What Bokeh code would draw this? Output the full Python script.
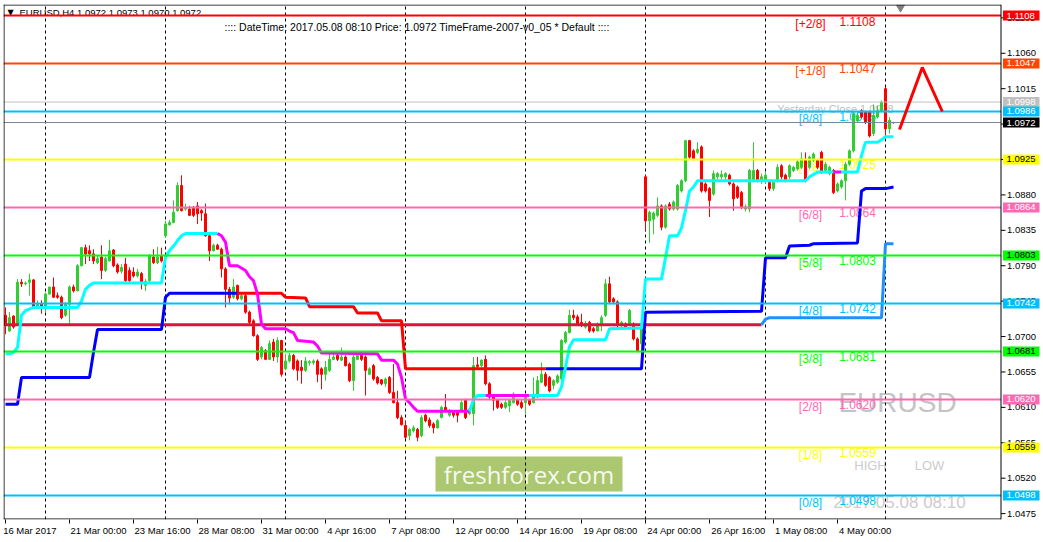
from bokeh.plotting import figure
from bokeh.models import FixedTicker, ColumnDataSource
from bokeh.embed import file_html
from bokeh.resources import INLINE
from bokeh.core.properties import value

# ---------------- data (EURUSD H4) ----------------
opens = [1.0727,1.0707,1.0726,1.0716,1.0769,1.0767,1.0769,1.0772,1.0737,1.0742,
1.0737,1.0754,1.0763,1.0752,1.0750,1.0727,1.0741,1.0763,1.0758,1.0790,
1.0813,1.0809,1.0805,1.0794,1.0801,1.0784,1.0796,1.0810,1.0791,1.0783,
1.0792,1.0784,1.0782,1.0777,1.0780,1.0765,1.0771,1.0801,1.0794,1.0803,
1.0828,1.0842,1.0845,1.0860,1.0892,1.0862,1.0862,1.0864,1.0866,1.0860,
1.0856,1.0828,1.0809,1.0816,1.0811,1.0786,1.0760,1.0750,1.0765,1.0748,
1.0752,1.0731,1.0720,1.0701,1.0674,1.0682,1.0671,1.0693,1.0674,1.0695,
1.0659,1.0669,1.0676,1.0669,1.0661,1.0657,1.0667,1.0667,1.0669,1.0659,
1.0652,1.0657,1.0671,1.0676,1.0670,1.0674,1.0665,1.0644,1.0671,1.0676,
1.0674,1.0652,1.0663,1.0648,1.0645,1.0640,1.0648,1.0629,1.0616,1.0597,
1.0587,1.0574,1.0580,1.0582,1.0574,1.0600,1.0594,1.0589,1.0584,1.0597,
1.0610,1.0600,1.0604,1.0604,1.0606,1.0619,1.0602,1.0602,1.0664,1.0663,
1.0671,1.0640,1.0623,1.0619,1.0614,1.0610,1.0612,1.0616,1.0619,1.0616,
1.0616,1.0619,1.0616,1.0623,1.0642,1.0652,1.0648,1.0638,1.0642,1.0646,
1.0693,1.0705,1.0727,1.0725,1.0718,1.0712,1.0718,1.0710,1.0707,1.0716,
1.0727,1.0767,1.0748,1.0744,1.0714,1.0716,1.0716,1.0716,1.0697,1.0691,
1.0903,1.0847,1.0849,1.0854,1.0866,1.0839,1.0868,1.0862,1.0862,1.0885,
1.0898,1.0949,1.0936,1.0934,1.0941,1.0894,1.0888,1.0881,1.0903,1.0903,
1.0903,1.0905,1.0894,1.0890,1.0883,1.0862,1.0862,1.0898,1.0911,1.0898,
1.0898,1.0896,1.0888,1.0898,1.0917,1.0905,1.0903,1.0911,1.0913,1.0915,
1.0924,1.0915,1.0924,1.0924,1.0934,1.0911,1.0907,1.0911,1.0885,1.0890,
1.0898,1.0919,1.0936,1.0974,1.0987,1.0985,1.0985,1.0958,1.0979,1.0987,
1.1015,1.0964,1.0972]
highs = [1.0737,1.0731,1.0727,1.0773,1.0773,1.0770,1.0780,1.0773,1.0746,1.0746,
1.0756,1.0763,1.0775,1.0756,1.0752,1.0744,1.0765,1.0766,1.0792,1.0814,
1.0817,1.0816,1.0811,1.0803,1.0816,1.0801,1.0823,1.0811,1.0793,1.0792,
1.0800,1.0788,1.0788,1.0786,1.0782,1.0773,1.0805,1.0811,1.0814,1.0813,
1.0847,1.0848,1.0873,1.0896,1.0905,1.0869,1.0866,1.0866,1.0871,1.0862,
1.0869,1.0830,1.0818,1.0818,1.0813,1.0788,1.0763,1.0773,1.0766,1.0756,
1.0754,1.0733,1.0722,1.0703,1.0688,1.0684,1.0695,1.0697,1.0699,1.0696,
1.0678,1.0679,1.0678,1.0671,1.0670,1.0674,1.0670,1.0671,1.0671,1.0661,
1.0669,1.0680,1.0682,1.0678,1.0686,1.0676,1.0667,1.0678,1.0681,1.0678,
1.0676,1.0661,1.0665,1.0650,1.0646,1.0648,1.0650,1.0665,1.0631,1.0600,
1.0593,1.0584,1.0587,1.0584,1.0600,1.0602,1.0597,1.0591,1.0595,1.0612,
1.0627,1.0608,1.0606,1.0606,1.0619,1.0621,1.0610,1.0674,1.0674,1.0671,
1.0676,1.0642,1.0625,1.0621,1.0616,1.0619,1.0621,1.0629,1.0621,1.0619,
1.0625,1.0621,1.0648,1.0650,1.0667,1.0655,1.0650,1.0646,1.0652,1.0697,
1.0707,1.0734,1.0734,1.0728,1.0729,1.0720,1.0720,1.0712,1.0718,1.0727,
1.0773,1.0776,1.0750,1.0746,1.0720,1.0718,1.0735,1.0718,1.0699,1.0714,
1.0905,1.0860,1.0859,1.0877,1.0868,1.0868,1.0871,1.0873,1.0894,1.0900,
1.0950,1.0950,1.0938,1.0947,1.0943,1.0896,1.0890,1.0911,1.0909,1.0911,
1.0909,1.0907,1.0896,1.0892,1.0885,1.0868,1.0913,1.0947,1.0913,1.0907,
1.0909,1.0898,1.0898,1.0919,1.0919,1.0907,1.0919,1.0917,1.0924,1.0934,
1.0934,1.0930,1.0934,1.0926,1.0936,1.0922,1.0917,1.0913,1.0896,1.0900,
1.0922,1.0938,1.0985,1.0985,1.0989,1.0987,1.0987,1.0995,1.0993,1.1000,
1.1017,1.0979,1.0973]
lows = [1.0703,1.0706,1.0710,1.0714,1.0763,1.0765,1.0752,1.0735,1.0735,1.0729,
1.0731,1.0753,1.0749,1.0748,1.0722,1.0725,1.0716,1.0756,1.0758,1.0789,
1.0792,1.0796,1.0792,1.0792,1.0773,1.0782,1.0796,1.0788,1.0780,1.0780,
1.0769,1.0769,1.0775,1.0775,1.0760,1.0758,1.0769,1.0792,1.0792,1.0794,
1.0826,1.0841,1.0844,1.0859,1.0859,1.0860,1.0853,1.0852,1.0843,1.0847,
1.0827,1.0796,1.0808,1.0810,1.0775,1.0737,1.0741,1.0748,1.0746,1.0746,
1.0729,1.0716,1.0700,1.0669,1.0671,1.0670,1.0670,1.0669,1.0667,1.0649,
1.0657,1.0667,1.0657,1.0644,1.0640,1.0655,1.0663,1.0664,1.0642,1.0633,
1.0644,1.0655,1.0670,1.0669,1.0669,1.0662,1.0642,1.0631,1.0670,1.0669,
1.0625,1.0651,1.0644,1.0639,1.0638,1.0636,1.0627,1.0615,1.0595,1.0587,
1.0570,1.0568,1.0578,1.0567,1.0572,1.0591,1.0584,1.0577,1.0583,1.0596,
1.0604,1.0598,1.0597,1.0591,1.0605,1.0595,1.0600,1.0587,1.0659,1.0661,
1.0638,1.0621,1.0606,1.0608,1.0608,1.0608,1.0604,1.0615,1.0612,1.0608,
1.0602,1.0612,1.0615,1.0622,1.0641,1.0636,1.0629,1.0633,1.0640,1.0644,
1.0691,1.0704,1.0721,1.0714,1.0712,1.0710,1.0705,1.0705,1.0707,1.0707,
1.0725,1.0741,1.0741,1.0712,1.0712,1.0710,1.0714,1.0695,1.0680,1.0682,
1.0835,1.0819,1.0830,1.0852,1.0835,1.0837,1.0860,1.0860,1.0860,1.0883,
1.0896,1.0926,1.0924,1.0932,1.0883,1.0883,1.0852,1.0879,1.0900,1.0900,
1.0898,1.0892,1.0860,1.0875,1.0862,1.0859,1.0858,1.0896,1.0896,1.0894,
1.0894,1.0885,1.0885,1.0896,1.0900,1.0896,1.0900,1.0909,1.0911,1.0913,
1.0896,1.0913,1.0922,1.0913,1.0907,1.0909,1.0905,1.0881,1.0883,1.0888,
1.0873,1.0917,1.0934,1.0972,1.0977,1.0970,1.0953,1.0955,1.0977,1.0985,
1.0955,1.0958,1.0970]
closes = [1.0714,1.0724,1.0712,1.0769,1.0767,1.0768,1.0772,1.0737,1.0741,1.0737,
1.0754,1.0763,1.0750,1.0750,1.0724,1.0741,1.0763,1.0758,1.0790,1.0813,
1.0805,1.0805,1.0796,1.0799,1.0784,1.0799,1.0809,1.0790,1.0782,1.0788,
1.0771,1.0771,1.0777,1.0782,1.0769,1.0770,1.0803,1.0794,1.0801,1.0796,
1.0843,1.0845,1.0858,1.0892,1.0860,1.0864,1.0854,1.0854,1.0856,1.0857,
1.0828,1.0809,1.0816,1.0811,1.0786,1.0760,1.0749,1.0763,1.0748,1.0752,
1.0731,1.0718,1.0701,1.0671,1.0686,1.0671,1.0691,1.0674,1.0695,1.0652,
1.0669,1.0676,1.0659,1.0657,1.0657,1.0669,1.0668,1.0669,1.0652,1.0652,
1.0661,1.0671,1.0674,1.0671,1.0674,1.0663,1.0644,1.0674,1.0676,1.0671,
1.0657,1.0659,1.0646,1.0641,1.0640,1.0646,1.0629,1.0616,1.0597,1.0588,
1.0572,1.0582,1.0584,1.0572,1.0597,1.0593,1.0587,1.0584,1.0593,1.0610,
1.0606,1.0606,1.0600,1.0600,1.0616,1.0597,1.0608,1.0663,1.0662,1.0670,
1.0640,1.0623,1.0619,1.0610,1.0610,1.0616,1.0619,1.0627,1.0614,1.0610,
1.0623,1.0614,1.0623,1.0644,1.0652,1.0638,1.0631,1.0644,1.0650,1.0695,
1.0705,1.0727,1.0724,1.0716,1.0714,1.0717,1.0707,1.0707,1.0716,1.0724,
1.0767,1.0744,1.0744,1.0714,1.0718,1.0712,1.0733,1.0697,1.0682,1.0712,
1.0847,1.0858,1.0857,1.0866,1.0839,1.0866,1.0862,1.0871,1.0892,1.0898,
1.0949,1.0928,1.0926,1.0938,1.0885,1.0885,1.0873,1.0907,1.0907,1.0906,
1.0907,1.0894,1.0875,1.0877,1.0864,1.0865,1.0911,1.0911,1.0898,1.0903,
1.0905,1.0888,1.0896,1.0915,1.0903,1.0898,1.0917,1.0915,1.0922,1.0926,
1.0898,1.0928,1.0932,1.0915,1.0909,1.0919,1.0915,1.0883,1.0894,1.0898,
1.0919,1.0936,1.0983,1.0981,1.0979,1.0972,1.0955,1.0981,1.0987,1.0998,
1.0964,1.0975,1.0972]

x_tick_bars = [0, 16, 32, 48, 64, 80, 96, 112, 128, 144, 160, 176, 192, 208]
x_tick_labels = ["16 Mar 2017", "21 Mar 00:00", "23 Mar 16:00", "28 Mar 08:00",
                 "31 Mar 00:00", "4 Apr 16:00", "7 Apr 08:00", "12 Apr 00:00",
                 "14 Apr 16:00", "19 Apr 08:00", "24 Apr 00:00", "26 Apr 16:00",
                 "1 May 08:00", "4 May 00:00"]
week_start_bars = [10, 40, 70, 100, 130, 160, 190, 220]
price_ticks = [1.0475, 1.0520, 1.0565, 1.0610, 1.0655, 1.0700, 1.0745, 1.0790,
               1.0835, 1.0880, 1.0925, 1.0970, 1.1015, 1.1060, 1.1105]

# Murrey math levels
level_names = ["[+2/8]", "[+1/8]", "[8/8]", "[7/8]", "[6/8]", "[5/8]",
               "[4/8]", "[3/8]", "[2/8]", "[1/8]", "[0/8]"]
level_values = [1.1108, 1.1047, 1.0986, 1.0925, 1.0864, 1.0803,
                1.0742, 1.0681, 1.0620, 1.0559, 1.0498]
level_colors = ["#FF0000", "#FF4500", "#00BFFF", "#FFFF00", "#FF69B4", "#00FF00",
                "#00BFFF", "#00FF00", "#FF69B4", "#FFFF00", "#00BFFF"]
yesterday_close = 1.0998
bid_price = 1.0972

# price tags on the right scale
tag_values = [1.1108, 1.1047, 1.0998, 1.0986, 1.0972, 1.0925, 1.0864,
              1.0803, 1.0742, 1.0681, 1.0620, 1.0559, 1.0498]
tag_fill = ["#FF0000", "#FF4500", "#C0C0C0", "#00BFFF", "#000000", "#FFFF00", "#FF69B4",
            "#00FF00", "#00BFFF", "#00FF00", "#FF69B4", "#FFFF00", "#00BFFF"]
tag_text = ["white", "white", "white", "white", "white", "black", "white",
            "black", "white", "black", "white", "black", "white"]

# trailing-stop line A (cyan = up, magenta = down)
a_up1_x = [0, 1, 2, 3, 4, 5, 7, 18, 19, 20, 21, 22, 39, 40, 41, 42, 43, 44, 45, 53]
a_up1_y = [1.0678, 1.0678, 1.0680, 1.0686, 1.0727, 1.0733, 1.0737, 1.0737, 1.0745, 1.0760,
           1.0765, 1.0768, 1.0768, 1.0801, 1.0809, 1.0815, 1.0822, 1.0828, 1.0831, 1.0831]
a_dn1_x = [53, 54, 55, 56, 58, 60, 61, 62, 63, 64, 65, 70, 71, 72, 73, 77, 78, 79, 93,
           94, 97, 98, 99, 100, 101, 102, 103, 116]
a_dn1_y = [1.0831, 1.0828, 1.0820, 1.0790, 1.0790, 1.0784, 1.0776, 1.0771, 1.0754, 1.0716,
           1.0710, 1.0710, 1.0707, 1.0705, 1.0695, 1.0693, 1.0688, 1.0679, 1.0678,
           1.0670, 1.0670, 1.0665, 1.0648, 1.0621, 1.0616, 1.0610, 1.0605, 1.0605]
a_up2_x = [116, 117, 118, 120]
a_up2_y = [1.0605, 1.0620, 1.0625, 1.0625]
a_dn2_x = [120, 131]
a_dn2_y = [1.0625, 1.0625]
a_up3_x = [131, 138, 139, 140, 141, 142, 150, 151, 159, 160, 164, 165, 166, 168, 169, 170,
           171, 172, 173, 200, 201, 203, 207]
a_up3_y = [1.0625, 1.0625, 1.0636, 1.0661, 1.0687, 1.0696, 1.0696, 1.0710, 1.0711, 1.0773,
           1.0773, 1.0800, 1.0828, 1.0828, 1.0838, 1.0860, 1.0885, 1.0890, 1.0898, 1.0898,
           1.0903, 1.0909, 1.0909]
a_dn3_x = [207, 209]
a_dn3_y = [1.0909, 1.0909]
a_up4_x = [209, 213, 214, 215, 218, 219, 220, 222]
a_up4_y = [1.0909, 1.0909, 1.0930, 1.0947, 1.0947, 1.0950, 1.0954, 1.0954]

# stepped line B (blue = up, red = down)
b_up1_x = [0, 3, 4, 21, 22, 23, 39, 40, 41, 58]
b_up1_y = [1.0614, 1.0614, 1.0648, 1.0648, 1.0680, 1.0709, 1.0709, 1.0750, 1.0755, 1.0755]
b_dn1_x = [58, 69, 70, 75, 76, 87, 88, 93, 94, 99, 100, 135]
b_dn1_y = [1.0755, 1.0755, 1.0750, 1.0749, 1.0738, 1.0738, 1.0730, 1.0730, 1.0720, 1.0720,
           1.0659, 1.0659]
b_up2_x = [135, 159, 160, 189, 190, 195, 196, 201, 202, 213, 214, 215, 220, 222]
b_up2_y = [1.0659, 1.0659, 1.0731, 1.0732, 1.0800, 1.0800, 1.0815, 1.0816, 1.0818, 1.0819,
           1.0885, 1.0888, 1.0888, 1.0890]

# stepped line C (crimson then dodger blue)
c_dn_x = [0, 189]
c_dn_y = [1.0715, 1.0715]
c_up_x = [189, 190, 191, 219, 220, 222]
c_up_y = [1.0715, 1.0722, 1.0724, 1.0724, 1.0818, 1.0818]

# projected zigzag
proj_x = [223.5, 229.2, 234.2]
proj_y = [1.0963, 1.1042, 1.0986]

# ---------------- geometry ----------------
W, H = 1042, 541
LEFT, TOP, BOTTOM = 3, 4, 519          # page pixels of the chart frame
PX_PER_BAR = 4.0
PX_PER_PRICE = 7868.85
BAR0_PX, PRICE0, PRICE0_PY = 5.0, 1.1108, 15.0


def px_to_bar(px):
    return (px - BAR0_PX) / PX_PER_BAR


def py_to_price(py):
    return PRICE0 - (py - PRICE0_PY) / PX_PER_PRICE


X_LO, X_HI = px_to_bar(LEFT), px_to_bar(W)
Y_LO, Y_HI = py_to_price(BOTTOM), py_to_price(TOP)
X_AX = px_to_bar(1000.5)      # right price scale line
BPX = 1 / PX_PER_BAR          # one pixel in bar units
PPX = 1 / PX_PER_PRICE        # one pixel in price units

p = figure(width=W, height=H, x_range=(X_LO, X_HI), y_range=(Y_LO, Y_HI),
           y_axis_location=None, output_backend="svg", toolbar_location=None,
           min_border_left=LEFT, min_border_top=TOP, min_border_right=0,
           min_border_bottom=H - BOTTOM,
           background_fill_color="white", border_fill_color="white")
p.outline_line_color = None
p.xgrid.visible = False
p.ygrid.visible = False

AX_FONT = "Liberation Sans"
AX_SIZE = 9.5
# bottom time axis (labels start at the tick, MT4 style)
CHAR_EM = {"0": .556, "1": .556, "2": .556, "3": .556, "4": .556, "5": .556, "6": .556,
           "7": .556, "8": .556, "9": .556, " ": .278, ":": .278, "M": .833, "a": .556,
           "r": .333, "A": .667, "p": .556, "y": .5}


def left_anchor(txt, first=False):
    if first:           # the first label is pushed inside the canvas by the axis
        return "\u00A0" + txt
    w = sum(CHAR_EM.get(ch, .556) for ch in txt) * AX_SIZE
    n = int(round((w + 3) / (0.278 * AX_SIZE)))
    return "\u00A0" * n + txt


xa = p.xaxis[0]
xa.ticker = FixedTicker(ticks=x_tick_bars)
xa.major_label_overrides = {b: left_anchor(t, k == 0)
                            for k, (b, t) in enumerate(zip(x_tick_bars, x_tick_labels))}
xa.axis_line_color = None
xa.major_tick_line_color = "black"
xa.minor_tick_line_color = None
xa.major_tick_in = 0
xa.major_tick_out = 4
xa.major_label_standoff = 1
xa.major_label_text_font = AX_FONT
xa.major_label_text_font_size = f"{AX_SIZE}px"
xa.major_label_text_color = "black"

# watermark texts
p.text(x=[px_to_bar(897)], y=[py_to_price(402)], text=["EURUSD"], text_color="#C4C4C4",
       text_font=value("Liberation Sans"), text_font_size="28px",
       text_align="center", text_baseline="middle")
p.text(x=[px_to_bar(870), px_to_bar(929)], y=[py_to_price(465)] * 2, text=["HIGH", "LOW"],
       text_color="#CCCCCC", text_font=value("Liberation Sans"), text_font_size="13px",
       text_align="center", text_baseline="middle")
p.text(x=[px_to_bar(899)], y=[py_to_price(502)], text=["2017.05.08 08:10"], text_color="#CCCCCC",
       text_font=value("Liberation Sans"), text_font_size="17px",
       text_align="center", text_baseline="middle")

# logo
p.quad(left=[px_to_bar(435)], right=[px_to_bar(622)], top=[py_to_price(456)],
       bottom=[py_to_price(491)], fill_color="#A6C468", line_color=None, fill_alpha=0.95)
p.text(x=[px_to_bar(528.5)], y=[py_to_price(474)], text=["freshforex.com"], text_color="#F6F9EE",
       text_font=value("Open Sans"), text_font_size="24px",
       text_align="center", text_baseline="middle")

# week separators
p.segment(x0=week_start_bars, y0=Y_LO, x1=week_start_bars, y1=Y_HI,
          line_color="black", line_width=1, line_dash="3 3")

# header
p.text(x=[px_to_bar(7)], y=[py_to_price(12)], text=["\u25BC"], text_color="black",
       text_font=value("DejaVu Sans"), text_font_size="8px", text_baseline="middle")
p.text(x=[px_to_bar(19)], y=[py_to_price(12)], text=["EURUSD,H4  1.0972 1.0973 1.0970 1.0972"],
       text_color="black", text_font=value(AX_FONT), text_font_size="9.5px",
       text_baseline="middle")
p.text(x=[px_to_bar(224)], y=[py_to_price(26)],
       text=[":::: DateTime: 2017.05.08 08:10    Price: 1.0972    TimeFrame-2007-v0_05    *   Default   ::::"],
       text_color="black", text_font=value(AX_FONT), text_font_size="10.5px",
       text_baseline="middle")

# level texts
p.text(x=[px_to_bar(810)] * len(level_names), y=level_values, text=level_names,
       text_color=level_colors, text_font=value("Liberation Sans"), text_font_size="12px",
       text_align="center", text_baseline="top", y_offset=1)
p.text(x=[px_to_bar(857)] * len(level_values), y=level_values,
       text=[f"{v:.4f}" for v in level_values],
       text_color=level_colors, text_font=value("Liberation Sans"), text_font_size="12px",
       text_align="center", text_baseline="top", y_offset=1)
p.text(x=[px_to_bar(835)], y=[yesterday_close], text=[f"Yesterday Close {yesterday_close:.4f}"],
       text_color="#C0C0C0", text_font=value("Liberation Sans"), text_font_size="11px",
       text_align="center", text_baseline="top", y_offset=1)

# candles
bars = list(range(len(closes)))
colors = ["#32CD32" if c >= o else "#FF0000" for o, c in zip(opens, closes)]
src = ColumnDataSource(dict(x=bars, h=highs, l=lows,
                            top=[max(o, c) for o, c in zip(opens, closes)],
                            bot=[min(o, c) for o, c in zip(opens, closes)],
                            color=colors))
p.segment(x0="x", y0="h", x1="x", y1="l", line_color="color", line_width=1, source=src)
p.vbar(x="x", width=0.5, top="top", bottom="bot", fill_color="color",
       line_color="color", line_width=1, source=src)

# indicator lines
for xs, ys, col in [(c_dn_x, c_dn_y, "#DC143C"), (c_up_x, c_up_y, "#1E90FF"),
                    (b_up1_x, b_up1_y, "#0000FF"), (b_dn1_x, b_dn1_y, "#FF0000"),
                    (b_up2_x, b_up2_y, "#0000FF"),
                    (a_up1_x, a_up1_y, "#00FFFF"), (a_dn1_x, a_dn1_y, "#FF00FF"),
                    (a_up2_x, a_up2_y, "#00FFFF"), (a_dn2_x, a_dn2_y, "#FF00FF"),
                    (a_up3_x, a_up3_y, "#00FFFF"), (a_dn3_x, a_dn3_y, "#FF00FF"),
                    (a_up4_x, a_up4_y, "#00FFFF")]:
    p.line(xs, ys, line_color=col, line_width=3)

# horizontal levels
p.segment(x0=X_LO, y0=level_values, x1=X_AX, y1=level_values,
          line_color=level_colors, line_width=2)
p.segment(x0=[X_LO], y0=[yesterday_close], x1=[X_AX], y1=[yesterday_close],
          line_color="#C0C0C0", line_width=1)
p.segment(x0=[X_LO], y0=[bid_price], x1=[X_AX], y1=[bid_price],
          line_color="#778899", line_width=1)

# projection
p.line(proj_x, proj_y, line_color="#FF0000", line_width=3)

# chart shift marker
p.scatter(x=[px_to_bar(900)], y=[py_to_price(7)], marker="inverted_triangle",
          size=8, fill_color="#808080", line_color="#808080")

# chart frame (left, top, bottom) and right price scale line
p.segment(x0=[X_LO + 0.5 * BPX, X_LO, X_LO, X_AX],
          y0=[Y_LO, Y_HI - 0.5 * PPX, Y_LO + 0.5 * PPX, Y_LO],
          x1=[X_LO + 0.5 * BPX, X_AX, X_AX, X_AX],
          y1=[Y_HI, Y_HI - 0.5 * PPX, Y_LO + 0.5 * PPX, Y_HI],
          line_color="black", line_width=1)

# right price scale: ticks and labels
p.segment(x0=X_AX, y0=price_ticks, x1=X_AX + 4.5 * BPX, y1=price_ticks,
          line_color="black", line_width=1)
p.text(x=[X_AX + 6 * BPX] * len(price_ticks), y=price_ticks,
       text=[f"{t:.4f}" for t in price_ticks], text_color="black",
       text_font=value(AX_FONT), text_font_size=f"{AX_SIZE}px",
       text_align="left", text_baseline="middle")

# price tags
p.quad(left=X_AX + 2 * BPX, right=X_AX + 38.5 * BPX,
       top=[v + 5 * PPX for v in tag_values], bottom=[v - 5 * PPX for v in tag_values],
       fill_color=tag_fill, line_color=None)
p.text(x=[X_AX + 5.5 * BPX] * len(tag_values), y=tag_values,
       text=[f"{v:.4f}" for v in tag_values], text_color=tag_text,
       text_font=value(AX_FONT), text_font_size=f"{AX_SIZE}px",
       text_align="left", text_baseline="middle")

open("out.html", "w").write(file_html(p, INLINE))
